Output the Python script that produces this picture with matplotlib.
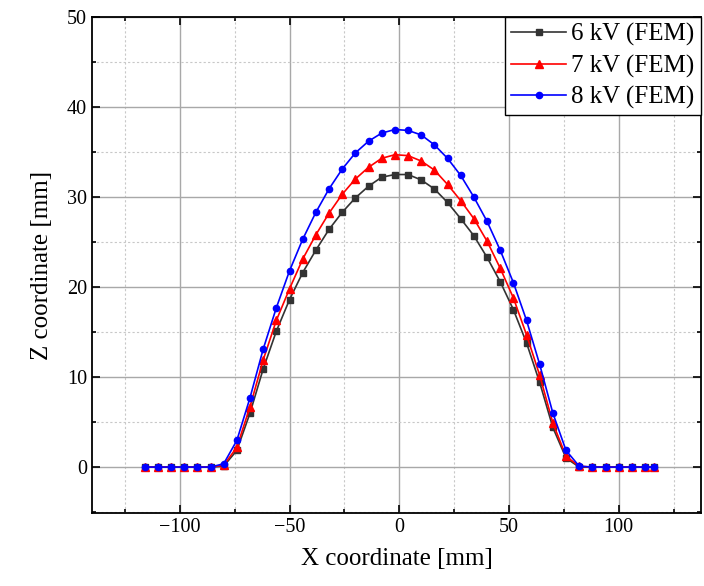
import matplotlib
matplotlib.use('Agg')
import matplotlib.pyplot as plt
from matplotlib.ticker import MultipleLocator

plt.rcParams['font.family'] = ['Liberation Serif', 'DejaVu Serif']
plt.rcParams['mathtext.fontset'] = 'stix'

# X positions of the FEM nodes [mm]
x = [-116, -110, -104, -98, -92, -86,
     -80, -74, -68, -62, -56, -50, -44, -38, -32, -26, -20, -14, -8, -2,
     4, 10, 16, 22, 28, 34, 40, 46, 52, 58, 64, 70, 76, 82,
     88, 94, 100, 106, 112, 116]

z_6kv = [0, 0, 0, 0, 0, 0,
         0.1, 1.85, 6.0, 10.9, 15.1, 18.6, 21.6, 24.1, 26.4, 28.3, 29.9, 31.2, 32.2, 32.5,
         32.5, 31.9, 30.9, 29.4, 27.6, 25.7, 23.3, 20.6, 17.5, 13.8, 9.4, 4.4, 1.0, 0,
         0, 0, 0, 0, 0, 0]

z_7kv = [0, 0, 0, 0, 0, 0,
         0.2, 2.2, 6.7, 11.9, 16.3, 19.8, 23.1, 25.8, 28.2, 30.3, 32.0, 33.3, 34.3, 34.7,
         34.6, 34.0, 33.0, 31.4, 29.6, 27.6, 25.1, 22.1, 18.8, 14.7, 10.2, 4.9, 1.2, 0.1,
         0, 0, 0, 0, 0, 0]

z_8kv = [0, 0, 0, 0, 0, 0,
         0.37, 2.96, 7.7, 13.1, 17.7, 21.8, 25.3, 28.3, 30.9, 33.1, 34.9, 36.2, 37.1, 37.5,
         37.4, 36.9, 35.8, 34.3, 32.4, 30.0, 27.3, 24.1, 20.5, 16.3, 11.4, 6.0, 1.85, 0.1,
         0, 0, 0, 0, 0, 0]

labels = ['6 kV (FEM)', '7 kV (FEM)', '8 kV (FEM)']

fig = plt.figure(figsize=(7.04, 5.86), dpi=100)
ax = fig.add_axes([0.1307, 0.1246, 0.865, 0.8464])

ax.plot(x, z_6kv, color='#333333', marker='s', markersize=4.5, lw=1.2, label=labels[0], zorder=3)
ax.plot(x, z_7kv, color='#ff0000', marker='^', markersize=5.5, lw=1.2, label=labels[1], zorder=4)
ax.plot(x, z_8kv, color='#0000ff', marker='o', markersize=4.5, lw=1.2, label=labels[2], zorder=5)

ax.set_xlim(-140, 137.5)
ax.set_ylim(-5.1, 50)
ax.xaxis.set_major_locator(MultipleLocator(50))
ax.xaxis.set_minor_locator(MultipleLocator(25))
ax.yaxis.set_major_locator(MultipleLocator(10))
ax.yaxis.set_minor_locator(MultipleLocator(5))

ax.grid(which='major', color='#a8a8a8', lw=1.0, ls='-')
ax.grid(which='minor', color='#c8c8c8', lw=0.8, ls=(0, (2, 2)))
ax.set_axisbelow(True)

ax.tick_params(which='both', direction='in', top=True, right=True, labelsize=14.5, width=1.2)
ax.tick_params(which='major', length=6)
ax.tick_params(which='minor', length=3)
for s in ax.spines.values():
    s.set_linewidth(1.3)

ax.set_xlabel('X coordinate [mm]', fontsize=18, labelpad=8)
ax.set_ylabel('Z coordinate [mm]', fontsize=18, labelpad=10)

leg = ax.legend(loc='upper right', fontsize=18, frameon=True, fancybox=False,
                edgecolor='black', framealpha=1, borderaxespad=0, borderpad=0.25,
                handlelength=2.2, handletextpad=0.2, labelspacing=0.33)
leg.get_frame().set_linewidth(1.0)

fig.savefig('out.png', dpi=100)
